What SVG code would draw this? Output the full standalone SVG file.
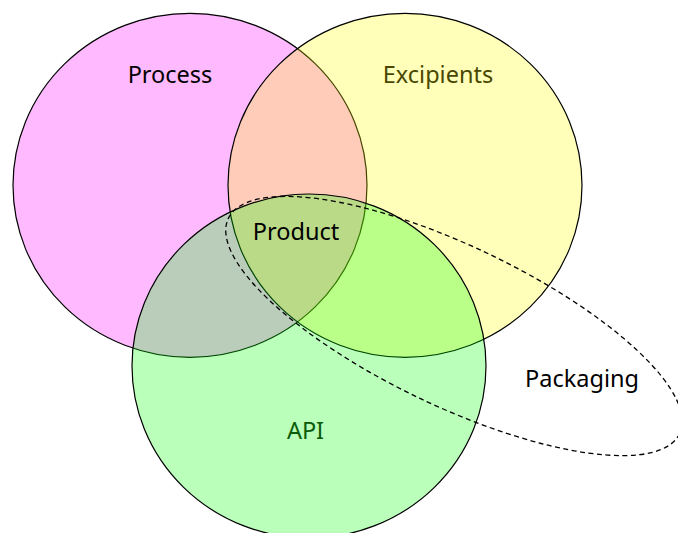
<svg xmlns="http://www.w3.org/2000/svg" width="678" height="533" viewBox="0 0 678 533">
<style>
.set{stroke:#000;stroke-width:1.2;}
.lbl{font-family:"Noto Sans","Open Sans",sans-serif;font-size:23.5px;text-anchor:middle;}
.pkg{fill:none;stroke:#000;stroke-width:1.3;stroke-dasharray:5,3.5;}
</style>
<rect width="678" height="533" fill="#fff"/>
<g id="process">
<ellipse class="set" cx="190" cy="185.3" rx="177" ry="172" fill="#FF00FF" fill-opacity="0.27"/>
<text class="lbl" x="170" y="83" fill="#000">Process</text>
</g>
<g id="excipients">
<ellipse class="set" cx="405" cy="185.3" rx="177" ry="172" fill="#FFFF00" fill-opacity="0.27"/>
<text class="lbl" x="438" y="83" fill="#4a4800">Excipients</text>
</g>
<g id="api">
<ellipse class="set" cx="309" cy="366" rx="177" ry="172" fill="#00FF00" fill-opacity="0.27"/>
<text class="lbl" x="305.5" y="439" fill="#0a5c0a">API</text>
</g>
<g id="product">
<text class="lbl" x="296" y="239.5" fill="#000">Product</text>
</g>
<g id="packaging">
<ellipse class="pkg" cx="454" cy="326" rx="250" ry="80" transform="rotate(25.5 454 326)"/>
<text class="lbl" x="582" y="387" fill="#000">Packaging</text>
</g>
</svg>
